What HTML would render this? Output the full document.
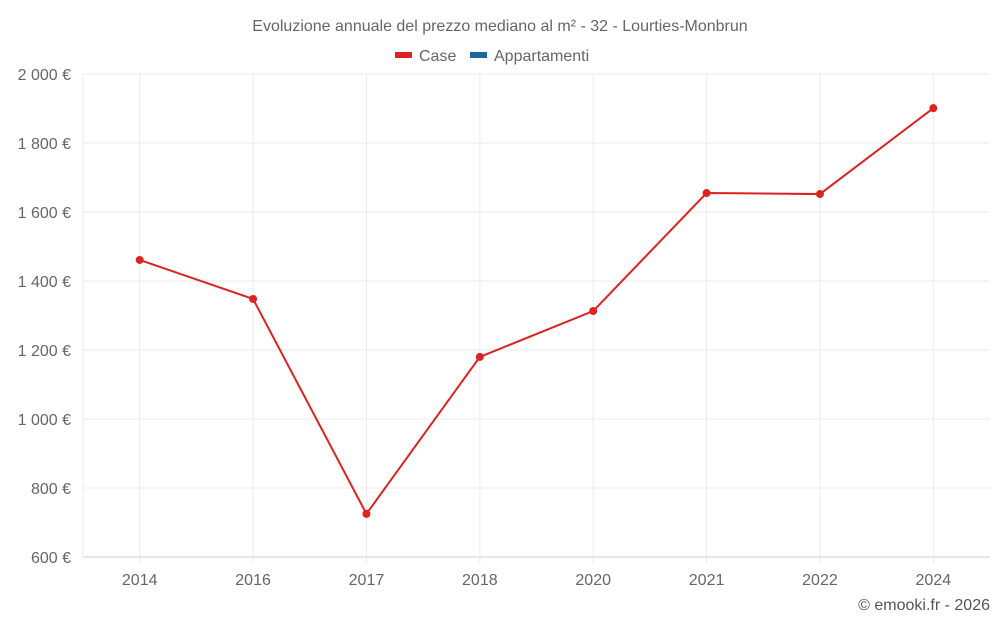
<!DOCTYPE html>
<html><head><meta charset="utf-8"><style>
body{margin:0;background:#fff;font-family:"Liberation Sans",sans-serif;}
svg text{font-family:"Liberation Sans",sans-serif;}
</style></head><body>
<svg id="chart" width="1000" height="625">
<text x="500" y="31" text-anchor="middle" font-size="16" fill="#666">Evoluzione annuale del prezzo mediano al m² - 32 - Lourties-Monbrun</text>
<g>
<g><rect x="395" y="52" width="17" height="6" fill="#dd2222"/><text x="419" y="61" font-size="16" fill="#666">Case</text></g>
<g><rect x="470" y="52" width="17" height="6" fill="#1a6a9a"/><text x="494" y="61" font-size="16" fill="#666">Appartamenti</text></g>
</g>
<g id="grid"></g><g id="axes"></g><g id="series"></g>
<text x="990" y="610" text-anchor="end" font-size="16" fill="#555">© emooki.fr - 2026</text>
</svg>
<script>
const categories=["2014","2016","2017","2018","2020","2021","2022","2024"];
const caseValues=[1461,1348,725,1180,1313,1655,1652,1901];
const yTicks=[600,800,1000,1200,1400,1600,1800,2000];
const yTickLabels=["600 €","800 €","1 000 €","1 200 €","1 400 €","1 600 €","1 800 €","2 000 €"];
const NS="http://www.w3.org/2000/svg";
const L=83,R=990,T=74,B=557,yMin=600,yMax=2000;
const bw=(R-L)/categories.length;
function x(i){return L+bw*(i+0.5);}
function y(v){return B-(v-yMin)/(yMax-yMin)*(B-T);}
function mk(tag,a,p){const e=document.createElementNS(NS,tag);for(const k in a)e.setAttribute(k,a[k]);p.appendChild(e);return e;}
const grid=document.getElementById('grid'),axes=document.getElementById('axes'),series=document.getElementById('series');
yTicks.forEach((t,i)=>{
 const g=mk('line',{x1:L,x2:R,y1:y(t),y2:y(t),stroke:i==0?'#ccc':'#ebebeb'},grid);
 
 
 const tx=mk('text',{x:71,y:y(t)+6,'text-anchor':'end','font-size':16,fill:'#666'},axes);
 tx.textContent=yTickLabels[i];
 
 
});
const vl=mk('line',{x1:L,x2:L,y1:T,y2:B,stroke:'#ebebeb'},grid);


categories.forEach((c,i)=>{
 const g=mk('line',{x1:x(i),x2:x(i),y1:T,y2:B+6,stroke:'#ebebeb'},grid);
 
 
 const tx=mk('text',{x:x(i),y:585,'text-anchor':'middle','font-size':16,fill:'#666'},axes);
 tx.textContent=c;
 
 
});
const pl=mk('polyline',{points:caseValues.map((v,i)=>x(i)+','+y(v)).join(' '),fill:'none',stroke:'#dd2222','stroke-width':2},series);


caseValues.forEach((v,i)=>{
 const c=mk('circle',{cx:x(i),cy:y(v),r:4,fill:'#dd2222'},series);
 
 
});
</script>
</body></html>
